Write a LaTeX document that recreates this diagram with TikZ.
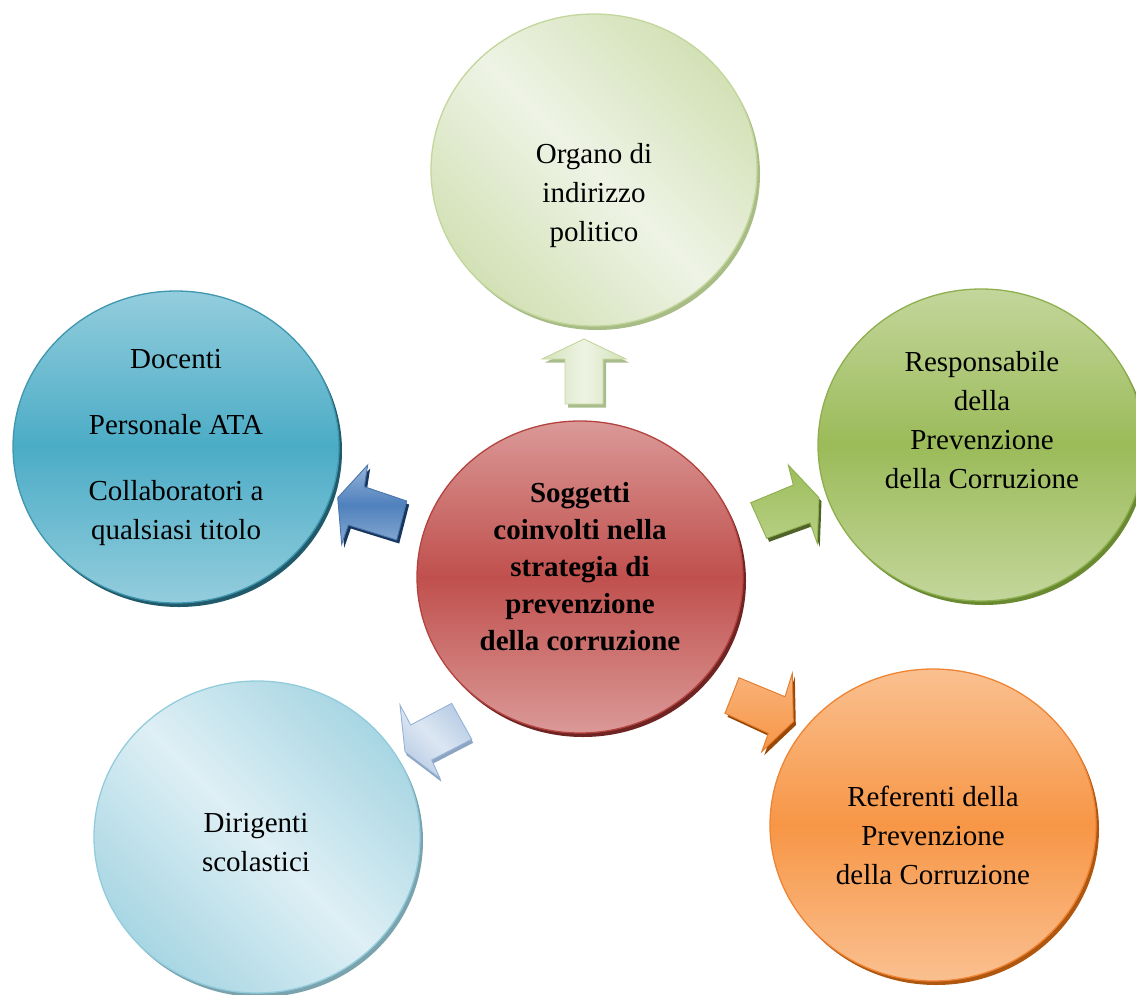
\documentclass[tikz,border=0pt]{standalone}
\usepackage{fontspec}
\setmainfont{Liberation Serif}
\usetikzlibrary{shapes.geometric,shadows}
\definecolor{cRedL}{HTML}{DA9997}
\definecolor{cRedM}{HTML}{C0504D}
\definecolor{cRedB}{HTML}{B4433F}
\definecolor{cRedS}{HTML}{6E2422}
\definecolor{cTopL}{HTML}{EEF3E5}
\definecolor{cTopD}{HTML}{D3E1B6}
\definecolor{cTopB}{HTML}{C3D69B}
\definecolor{cTopS}{HTML}{A8BC86}
\definecolor{cGrnL}{HTML}{C3D69B}
\definecolor{cGrnM}{HTML}{9BBB59}
\definecolor{cGrnB}{HTML}{8EAF4E}
\definecolor{cGrnS}{HTML}{6A8A32}
\definecolor{cBluL}{HTML}{93CDDD}
\definecolor{cBluM}{HTML}{4BACC6}
\definecolor{cBluB}{HTML}{3E97AE}
\definecolor{cBluS}{HTML}{215A6A}
\definecolor{cLbL}{HTML}{DEEFF5}
\definecolor{cLbD}{HTML}{A8D6E3}
\definecolor{cLbB}{HTML}{92CCDC}
\definecolor{cLbS}{HTML}{7BA3AE}
\definecolor{cOrL}{HTML}{FAC090}
\definecolor{cOrM}{HTML}{F79646}
\definecolor{cOrB}{HTML}{EE8434}
\definecolor{cOrS}{HTML}{B0570F}
\definecolor{aUpL}{HTML}{EEF3E4}
\definecolor{aUpD}{HTML}{D4E2B9}
\definecolor{aUpB}{HTML}{C3D69B}
\definecolor{aUpS}{HTML}{A9BC8B}
\definecolor{aGrT}{HTML}{9DBD5B}
\definecolor{aGrBo}{HTML}{B7D085}
\definecolor{aGrS}{HTML}{4F6228}
\definecolor{aBlL}{HTML}{95B3D7}
\definecolor{aBlM}{HTML}{4F81BD}
\definecolor{aBlB}{HTML}{4A76AC}
\definecolor{aBlS}{HTML}{17365D}
\definecolor{aLbL}{HTML}{DCE6F2}
\definecolor{aLbD}{HTML}{B9CDE5}
\definecolor{aLbB}{HTML}{95B3D7}
\definecolor{aLbS}{HTML}{8EA5C2}
\definecolor{aOrL}{HTML}{F9B27A}
\definecolor{aOrB}{HTML}{E37B2A}
\definecolor{aOrS}{HTML}{984807}
\tikzset{
  bubble/.style={ellipse, minimum width=326pt, minimum height=312pt, inner sep=0pt, line width=1.3pt},
  rim/.style={drop shadow={shadow xshift=3pt, shadow yshift=-4pt, fill=#1, opacity=1}},
  lbl/.style={align=center, inner sep=0pt, font=\fontsize{29}{39}\selectfont},
  blbl/.style={align=center, inner sep=0pt, font=\fontsize{29}{37}\selectfont\bfseries},
  arr/.style={line width=0.9pt, line join=miter},
}
\begin{document}
\begin{tikzpicture}[x=1pt, y=-1pt]
\useasboundingbox (0,0) rectangle (1136,994);
\clip (0,0) rectangle (1136,994);

% circles
\node[bubble, rim=cRedS, draw=cRedB, top color=cRedL, bottom color=cRedL, middle color=cRedM] (center) at (580,577) {};
\node[bubble, rim=cTopS, draw=cTopB, left color=cTopD, right color=cTopD, middle color=cTopL, shading angle=-45] (top) at (594,170) {};
\node[bubble, rim=cGrnS, draw=cGrnB, top color=cGrnL, bottom color=cGrnL, middle color=cGrnM] (right) at (981,445) {};
\node[bubble, rim=cBluS, draw=cBluB, top color=cBluL, bottom color=cBluL, middle color=cBluM] (left) at (176,447) {};
\node[bubble, rim=cLbS, draw=cLbB, left color=cLbD, right color=cLbD, middle color=cLbL, shading angle=-45] (botleft) at (257,837) {};
\node[bubble, rim=cOrS, draw=cOrB, top color=cOrL, bottom color=cOrL, middle color=cOrM] (botright) at (933,825) {};

% texts
\node[blbl] (centertxt) at (580,567) {Soggetti\\coinvolti nella\\strategia di\\prevenzione\\della corruzione};
\node[lbl] (toptxt) at (594,196) {Organo di\\indirizzo\\politico};
\node[lbl] (righttxt) at (982,420) {Responsabile\\della\\Prevenzione\\della Corruzione};
\node[lbl] (lefttxt) at (176,447) {Docenti\\[27pt]Personale ATA\\[27pt]Collaboratori a\\qualsiasi titolo};
\node[lbl] (botlefttxt) at (256,843) {Dirigenti\\scolastici};
\node[lbl] (botrighttxt) at (933,835) {Referenti della\\Prevenzione\\della Corruzione};

% up arrow (light green)
\fill[aUpS, shift={(3,3.5)}] (565,404) -- (565,359) -- (542,359) -- (584,339) -- (626,359) -- (603,359) -- (603,404) -- cycle;
\draw[arr, draw=aUpB, left color=aUpD, right color=aUpD, middle color=aUpL] (565,404) -- (565,359) -- (542,359) -- (584,339) -- (626,359) -- (603,359) -- (603,404) -- cycle;

% right arrow (green)
\fill[aGrS, shift={(2.5,3.5)}] (750.7,502.7) -- (793.3,485) -- (788.3,465) -- (819,497.7) -- (817.3,543.3) -- (810,522.7) -- (766.7,538.3) -- cycle;
\draw[arr, draw=cGrnB, top color=aGrT, bottom color=aGrBo] (750.7,502.7) -- (793.3,485) -- (788.3,465) -- (819,497.7) -- (817.3,543.3) -- (810,522.7) -- (766.7,538.3) -- cycle;

% left arrow (blue)
\fill[aBlS, shift={(2.5,3.5)}] (337.7,497.7) -- (367.7,465) -- (364.3,486.7) -- (406.7,501) -- (396.7,540) -- (348.3,525) -- (341.7,544.3) -- cycle;
\draw[arr, draw=aBlB, top color=aBlL, bottom color=aBlL!80!aBlM, middle color=aBlM] (337.7,497.7) -- (367.7,465) -- (364.3,486.7) -- (406.7,501) -- (396.7,540) -- (348.3,525) -- (341.7,544.3) -- cycle;

% bottom-left arrow (light blue)
\fill[aLbS, shift={(1.5,3.5)}] (400,705) -- (410.7,725) -- (451.7,703.3) -- (471.7,739.3) -- (431.7,760) -- (440,778.3) -- (405,751.7) -- cycle;
\draw[arr, draw=aLbB, left color=aLbD, right color=aLbD, middle color=aLbL, shading angle=-45] (400,705) -- (410.7,725) -- (451.7,703.3) -- (471.7,739.3) -- (431.7,760) -- (440,778.3) -- (405,751.7) -- cycle;

% bottom-right arrow (orange)
\fill[aOrS, shift={(2.5,3.5)}] (739,677.7) -- (785,696.7) -- (792.3,673.3) -- (793.3,721.7) -- (761.7,751.7) -- (768.3,733.3) -- (725,713.3) -- cycle;
\draw[arr, draw=aOrB, top color=aOrL, bottom color=cOrM] (739,677.7) -- (785,696.7) -- (792.3,673.3) -- (793.3,721.7) -- (761.7,751.7) -- (768.3,733.3) -- (725,713.3) -- cycle;
\end{tikzpicture}
\end{document}
